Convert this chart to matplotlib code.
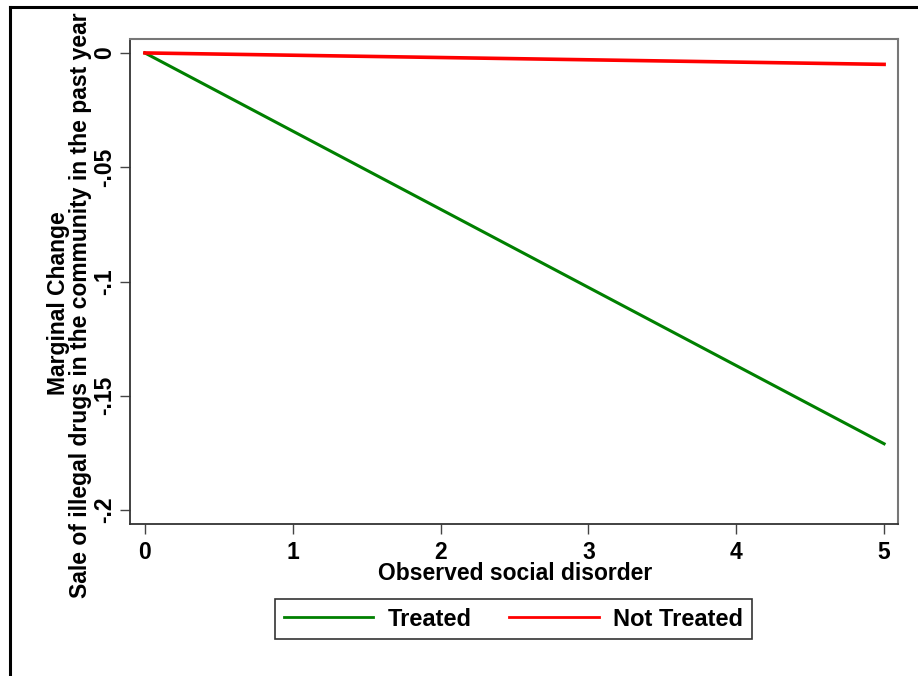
import matplotlib.pyplot as plt
from matplotlib.lines import Line2D

plt.rcParams['font.family'] = ['Liberation Sans', 'DejaVu Sans']
plt.rcParams['font.weight'] = 'bold'

# marginal change by observed social disorder
disorder = [0, 1, 2, 3, 4, 5]
treated = [0, -0.0342, -0.0684, -0.1026, -0.1368, -0.171]
not_treated = [0, -0.001, -0.002, -0.003, -0.004, -0.005]

x_ticks = [0, 1, 2, 3, 4, 5]
y_ticks = [0, -0.05, -0.1, -0.15, -0.2]
y_tick_labels = ['0', '-.05', '-.1', '-.15', '-.2']

W, H = 918, 676
fig = plt.figure(figsize=(W / 100, H / 100), dpi=100)
ax = fig.add_axes([130 / W, 1 - 524 / H, 768 / W, 485 / H])

ax.plot(disorder, treated, color='#008000', lw=2.2, label='Treated')
ax.plot(disorder, not_treated, color='#ff0000', lw=2.6, label='Not Treated')

ax.set_xlim(-0.101, 5.094)
ax.set_ylim(-0.2061, 0.0061)
ax.set_xticks(x_ticks)
ax.set_xticklabels([str(v) for v in x_ticks])
ax.set_yticks(y_ticks)
ax.set_yticklabels(y_tick_labels, rotation=90, va='center')
ax.tick_params(direction='out', length=7, width=1.0, color='#444444',
               labelsize=16.5, pad=3)
ax.tick_params(axis='x', pad=5)
for lab in ax.get_xticklabels() + ax.get_yticklabels():
    lab.set_fontweight('bold')

for side in ['left', 'bottom']:
    ax.spines[side].set_color('#333333')
    ax.spines[side].set_linewidth(1.3)
for side in ['top', 'right']:
    ax.spines[side].set_color('#777777')
    ax.spines[side].set_linewidth(1.5)

# axis titles
fig.text(515 / W, 1 - 573 / H, 'Observed social disorder', ha='center', va='center',
         fontsize=16.5, fontweight='bold')
fig.text(59 / W, 1 - 303 / H, 'Marginal Change', ha='center', va='center',
         rotation=90, fontsize=16.5, fontweight='bold')
fig.text(81 / W, 1 - 305 / H, 'Sale of illegal drugs in the community in the past year',
         ha='center', va='center', rotation=90, fontsize=16.5, fontweight='bold')

leg = fig.legend(loc='center', bbox_to_anchor=(513.5 / W, 1 - 619 / H), ncol=2,
                 frameon=True, fancybox=False, edgecolor='black',
                 prop={'size': 17, 'weight': 'bold'}, handlelength=3.8,
                 columnspacing=1.6, handletextpad=0.6, borderpad=0.35)
leg.get_frame().set_linewidth(1.2)
for h in leg.get_lines():
    h.set_linewidth(2.0)

# outer border (left and top edges)
fig.add_artist(Line2D([10 / W, 10 / W], [0, 1 - 7 / H], transform=fig.transFigure,
                      color='black', lw=2.2))
fig.add_artist(Line2D([10 / W, 1], [1 - 7 / H, 1 - 7 / H], transform=fig.transFigure,
                      color='black', lw=2.2))

fig.savefig('out.png', dpi=100)
